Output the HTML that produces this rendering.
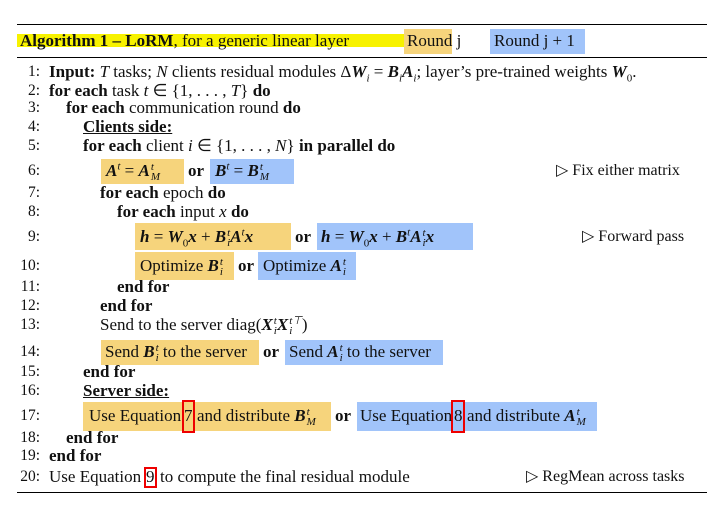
<!DOCTYPE html>
<html><head><meta charset="utf-8"><style>
body{margin:0;width:723px;height:515px;background:#fff;position:relative;overflow:hidden;font-family:"Liberation Serif",serif;font-size:17px;color:#111}
.r{position:absolute;left:17px;width:690px;height:1px;background:#000}
.l{position:absolute;left:0;width:723px;height:20px;line-height:20px;white-space:nowrap}
.n{position:absolute;left:0;width:40px;text-align:right;font-size:15.5px}
.t{position:absolute;white-space:nowrap}
.bx{position:absolute}
.o{background:#f6d47c}.b{background:#a1c4fa}
.red{outline:2px solid #e00;outline-offset:0;display:inline-block;padding:0 1px}
i{font-style:italic}
.v{font-weight:bold;font-style:italic}
sup,sub{font-size:11px;line-height:0}
.s{display:inline-block;vertical-align:middle;line-height:10px;font-size:11px;font-style:italic;margin-left:1px}
</style></head><body>
<div class="r" style="top:24px"></div>
<div class="bx" style="left:17px;top:34px;width:387px;height:13px;background:#f7f200"></div>
<div class="bx o" style="left:404px;top:29px;width:48px;height:25px"></div>
<div class="bx b" style="left:490px;top:29px;width:95px;height:25px"></div>
<div class="t" style="left:20px;top:31px;line-height:20px"><b>Algorithm 1 – LoRM</b>, for a generic linear layer</div>
<div class="t" style="left:407px;top:31px;line-height:20px">Round j</div>
<div class="t" style="left:494px;top:31px;line-height:20px">Round j + 1</div>
<div class="r" style="top:57px"></div>

<div class="bx o" style="left:101px;top:159px;width:83px;height:25px"></div>
<div class="bx b" style="left:210px;top:159px;width:84px;height:25px"></div>
<div class="bx o" style="left:135px;top:223px;width:156px;height:27px"></div>
<div class="bx b" style="left:317px;top:223px;width:156px;height:27px"></div>
<div class="bx o" style="left:135px;top:252px;width:99px;height:28px"></div>
<div class="bx b" style="left:258px;top:252px;width:98px;height:28px"></div>
<div class="bx o" style="left:101px;top:340px;width:158px;height:25px"></div>
<div class="bx b" style="left:285px;top:340px;width:158px;height:25px"></div>
<div class="bx o" style="left:83px;top:402px;width:248px;height:29px"></div>
<div class="bx b" style="left:357px;top:402px;width:240px;height:29px"></div>
<div class="bx" style="left:182px;top:400px;width:13px;height:33px;border:2px solid #e00;box-sizing:border-box"></div>
<div class="bx" style="left:451px;top:400px;width:14px;height:33px;border:2px solid #e00;box-sizing:border-box"></div>
<div class="bx" style="left:144px;top:467px;width:13px;height:21px;border:2px solid #e00;box-sizing:border-box"></div>

<div class="l" style="top:62px"><span class="n">1:</span><span class="t" style="left:49px"><b>Input:</b> <i>T</i> tasks; <i>N</i> clients residual modules Δ<span class="v">W</span><sub><i>i</i></sub> = <span class="v">B</span><sub><i>i</i></sub><span class="v">A</span><sub><i>i</i></sub>; layer’s pre-trained weights <span class="v">W</span><sub>0</sub>.</span></div>
<div class="l" style="top:81px"><span class="n">2:</span><span class="t" style="left:49px"><b>for each</b> task <i>t</i> ∈ {1, . . . , <i>T</i>} <b>do</b></span></div>
<div class="l" style="top:98px"><span class="n">3:</span><span class="t" style="left:66px"><b>for each</b> communication round <b>do</b></span></div>
<div class="l" style="top:117px"><span class="n">4:</span><span class="t" style="left:83px"><b style="text-decoration:underline">Clients side:</b></span></div>
<div class="l" style="top:136px"><span class="n">5:</span><span class="t" style="left:83px"><b>for each</b> client <i>i</i> ∈ {1, . . . , <i>N</i>} <b>in parallel do</b></span></div>
<div class="l" style="top:161px"><span class="n">6:</span><span class="t" style="left:106px"><span class="v">A</span><sup><i>t</i></sup> = <span class="v">A</span><span class="s">t<br>M</span></span><span class="t" style="left:188px"><b>or</b></span><span class="t" style="left:215px"><span class="v">B</span><sup><i>t</i></sup> = <span class="v">B</span><span class="s">t<br>M</span></span><span class="t" style="left:556px;font-size:16px">▷ Fix either matrix</span></div>
<div class="l" style="top:183px"><span class="n">7:</span><span class="t" style="left:100px"><b>for each</b> epoch <b>do</b></span></div>
<div class="l" style="top:202px"><span class="n">8:</span><span class="t" style="left:117px"><b>for each</b> input <i>x</i> <b>do</b></span></div>
<div class="l" style="top:227px"><span class="n">9:</span><span class="t" style="left:140px"><span class="v">h</span> = <span class="v">W</span><sub>0</sub><span class="v">x</span> + <span class="v">B</span><span class="s">t<br>i</span><span class="v">A</span><sup><i>t</i></sup><span class="v">x</span></span><span class="t" style="left:295px"><b>or</b></span><span class="t" style="left:321px"><span class="v">h</span> = <span class="v">W</span><sub>0</sub><span class="v">x</span> + <span class="v">B</span><sup><i>t</i></sup><span class="v">A</span><span class="s">t<br>i</span><span class="v">x</span></span><span class="t" style="left:582px;font-size:16px">▷ Forward pass</span></div>
<div class="l" style="top:256px"><span class="n">10:</span><span class="t" style="left:140px">Optimize <span class="v">B</span><span class="s">t<br>i</span></span><span class="t" style="left:238px"><b>or</b></span><span class="t" style="left:263px">Optimize <span class="v">A</span><span class="s">t<br>i</span></span></div>
<div class="l" style="top:277px"><span class="n">11:</span><span class="t" style="left:117px"><b>end for</b></span></div>
<div class="l" style="top:296px"><span class="n">12:</span><span class="t" style="left:100px"><b>end for</b></span></div>
<div class="l" style="top:315px"><span class="n">13:</span><span class="t" style="left:100px">Send to the server diag(<span class="v">X</span><span class="s">t<br>i</span><span class="v">X</span><span class="s">t⊤<br>i</span>)</span></div>
<div class="l" style="top:342px"><span class="n">14:</span><span class="t" style="left:105px">Send <span class="v">B</span><span class="s">t<br>i</span> to the server</span><span class="t" style="left:263px"><b>or</b></span><span class="t" style="left:289px">Send <span class="v">A</span><span class="s">t<br>i</span> to the server</span></div>
<div class="l" style="top:362px"><span class="n">15:</span><span class="t" style="left:83px"><b>end for</b></span></div>
<div class="l" style="top:381px"><span class="n">16:</span><span class="t" style="left:83px"><b style="text-decoration:underline">Server side:</b></span></div>
<div class="l" style="top:406px"><span class="n">17:</span><span class="t" style="left:89px">Use Equation</span><span class="t" style="left:184px">7</span><span class="t" style="left:197px">and distribute <span class="v">B</span><span class="s">t<br>M</span></span><span class="t" style="left:335px"><b>or</b></span><span class="t" style="left:360px">Use Equation</span><span class="t" style="left:454px">8</span><span class="t" style="left:467px">and distribute <span class="v">A</span><span class="s">t<br>M</span></span></div>
<div class="l" style="top:428px"><span class="n">18:</span><span class="t" style="left:66px"><b>end for</b></span></div>
<div class="l" style="top:446px"><span class="n">19:</span><span class="t" style="left:49px"><b>end for</b></span></div>
<div class="l" style="top:467px"><span class="n">20:</span><span class="t" style="left:49px">Use Equation</span><span class="t" style="left:146px">9</span><span class="t" style="left:160px">to compute the final residual module</span><span class="t" style="left:526px;font-size:16px">▷ RegMean across tasks</span></div>
<div class="r" style="top:492px"></div>
</body></html>
